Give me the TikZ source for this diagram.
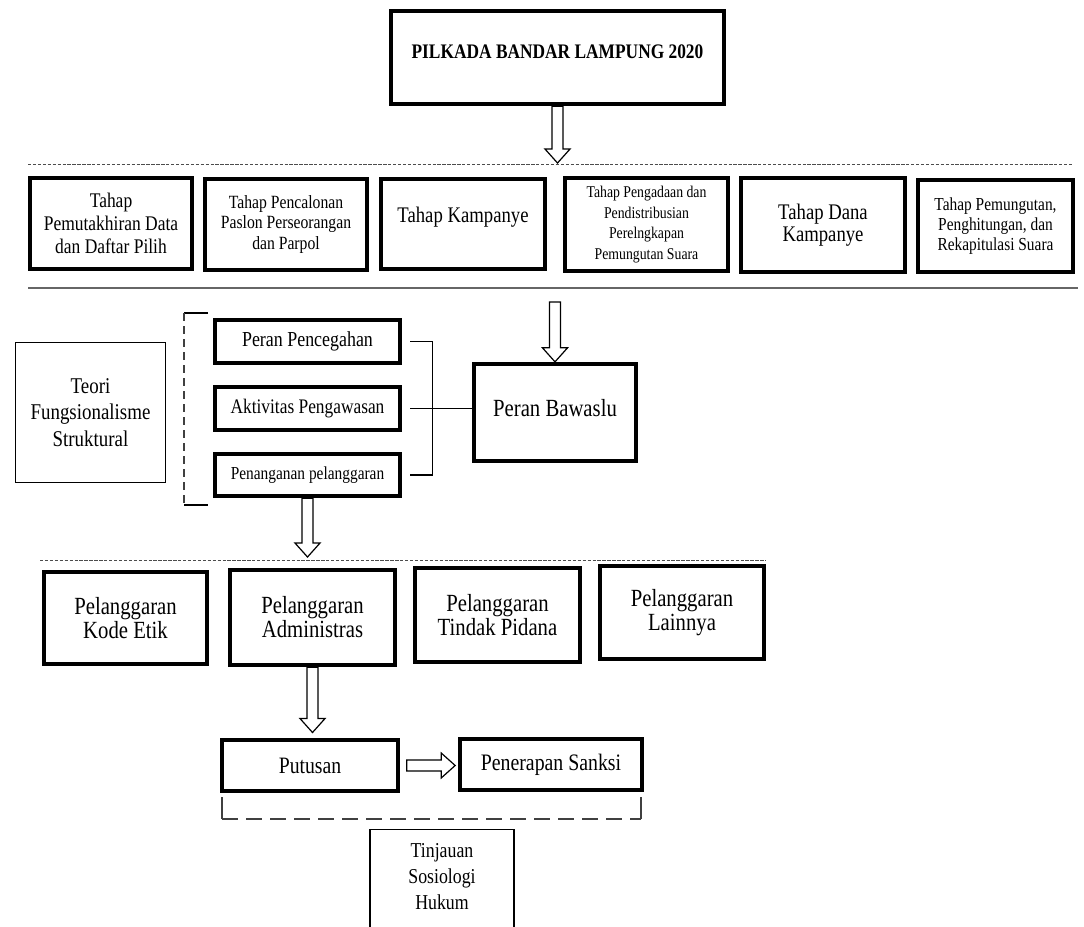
\documentclass[tikz,border=0pt]{standalone}
\usepackage{fontspec}
\setmainfont{Liberation Serif}[FakeStretch=0.84]
\usetikzlibrary{calc}
\newcommand{\setfs}[2]{\fontsize{#1}{#2}\selectfont}
\tikzset{
    stage/.style={draw, line width=3pt, align=center}, % heavy framed boxes
    theory/.style={draw, line width=1pt, align=center}, % thin framed boxes
    link/.style={line width=0.8pt}, % plain connector lines
    bracket/.style={line width=0.8pt, black!75, dash pattern=on 6pt off 3.75pt}, % dashed brackets
    divider/.style={line width=0.6pt, black!70, dash pattern=on 2.5pt off 1.2pt}, % dashed separators
    downarrow/.style={draw, fill=white, line width=0.9pt, to path={
        let \p1=(\tikztostart), \p2=(\tikztotarget) in
        (\x1-4.1pt,\y1) -- (\x1-4.1pt,\y2+10.5pt) -- (\x1-9.4pt,\y2+10.5pt) -- (\x1,\y2)
        -- (\x1+9.4pt,\y2+10.5pt) -- (\x1+4.1pt,\y2+10.5pt) -- (\x1+4.1pt,\y1) -- cycle}}, % hollow block arrow, down
    rightarrow/.style={draw, fill=white, line width=0.9pt, to path={
        let \p1=(\tikztostart), \p2=(\tikztotarget) in
        (\x1,\y1-4.1pt) -- (\x2-10.5pt,\y1-4.1pt) -- (\x2-10.5pt,\y1-9.4pt) -- (\x2,\y1)
        -- (\x2-10.5pt,\y1+9.4pt) -- (\x2-10.5pt,\y1+4.1pt) -- (\x1,\y1+4.1pt) -- cycle}}, % hollow block arrow, right
}
\begin{document}
\begin{tikzpicture}[x=0.75pt, y=-0.75pt]
    \useasboundingbox (0,0) rectangle (1084,927);
    \clip (0,0) rectangle (1084,927);

    % separators
    \draw[divider] (28,164) -- (1072,164);
    \draw[line width=1.2pt, black!60] (28,288) -- (1078,288);
    \draw[divider] (40,560) -- (766,560);

    \node[stage, minimum width=250pt, minimum height=70pt, text depth=9pt, font=\setfs{15.5}{18}\bfseries] (pilkada) at (557.5,57.5) {PILKADA BANDAR LAMPUNG 2020};

    % stages
    \node[stage, minimum width=121.75pt, minimum height=68.5pt, font=\setfs{15.6}{17}] (pemutakhiran) at (111,223.5) {Tahap\\Pemutakhiran Data\\dan Daftar Pilih};
    \node[stage, minimum width=121.75pt, minimum height=68.5pt, font=\setfs{14}{15.5}] (pencalonan) at (286,224.5) {Tahap Pencalonan\\Paslon Perseorangan\\dan Parpol};
    \node[stage, minimum width=123.25pt, minimum height=67pt, text depth=14pt, font=\setfs{16.7}{19}] (kampanye) at (463,224) {Tahap Kampanye};
    \node[stage, minimum width=122.5pt, minimum height=70pt, font=\setfs{12.3}{15.5}] (pengadaan) at (646.5,224.5) {Tahap Pengadaan dan\\Pendistribusian\\Perelngkapan\\Pemungutan Suara};
    \node[stage, minimum width=123.25pt, minimum height=70pt, font=\setfs{16.7}{16.5}] (dana) at (823,225) {Tahap Dana\\Kampanye};
    \node[stage, minimum width=116.5pt, minimum height=69.25pt, font=\setfs{13.75}{15}] (pemungutan) at (995.5,226) {Tahap Pemungutan,\\Penghitungan, dan\\Rekapitulasi Suara};

    % roles
    \node[stage, minimum width=139pt, minimum height=32.5pt, font=\setfs{16}{18}] (pencegahan) at (307.5,341.5) {Peran Pencegahan};
    \node[stage, minimum width=139pt, minimum height=32.5pt, font=\setfs{15.5}{18}] (aktivitas) at (307.5,408.5) {Aktivitas Pengawasan};
    \node[stage, minimum width=139pt, minimum height=31.75pt, font=\setfs{13.75}{16}] (penanganan) at (307.5,475) {Penanganan pelanggaran};
    \node[stage, minimum width=121.75pt, minimum height=73pt, text depth=7.5pt, font=\setfs{18.5}{20}] (bawaslu) at (555,412.5) {Peran Bawaslu};
    \node[theory, minimum width=112.25pt, minimum height=104.75pt, font=\setfs{16.9}{19.7}] (teori) at (90.5,412.5) {Teori\\Fungsionalisme\\Struktural};

    % violations
    \node[stage, minimum width=122.5pt, minimum height=69.25pt, font=\setfs{18.5}{18}] (kodeetik) at (125.5,618) {Pelanggaran\\Kode Etik};
    \node[stage, minimum width=124pt, minimum height=71.5pt, font=\setfs{18.5}{18}] (administras) at (312.5,617.5) {Pelanggaran\\Administras};
    \node[stage, minimum width=124pt, minimum height=70.75pt, font=\setfs{18.5}{18}] (tindak) at (497.5,615) {Pelanggaran\\Tindak Pidana};
    \node[stage, minimum width=123.25pt, minimum height=70pt, font=\setfs{18.5}{18}] (lainnya) at (682,612.5) {Pelanggaran\\Lainnya};

    \node[stage, minimum width=132.25pt, minimum height=38.5pt, font=\setfs{17.6}{20}] (putusan) at (310,765.5) {Putusan};
    \node[stage, minimum width=136.75pt, minimum height=38.5pt, font=\setfs{17.7}{20}] (sanksi) at (551,764.5) {Penerapan Sanksi};
    \node[theory, draw=none, minimum width=107pt, minimum height=70.5pt, font=\setfs{15.9}{19.5}] (tinjauan) at (442,877) {Tinjauan\\Sosiologi\\Hukum};
    \draw[line width=1pt] ([yshift=-20pt]tinjauan.south west) -- (tinjauan.north west) -- (tinjauan.north east) -- ([yshift=-20pt]tinjauan.south east);

    \coordinate (tip1) at (557.5,163);
    \coordinate (gate2) at (555,302);
    \coordinate (tip3) at (307.5,557);

    % arrows
    \draw[downarrow] (pilkada.south) to (tip1);
    \draw[downarrow] (gate2) to (bawaslu.north);
    \draw[downarrow] (penanganan.south) to (tip3);
    \draw[downarrow] (administras.south) to ([yshift=4pt]putusan.north);
    \draw[rightarrow] ([xshift=5pt]putusan.east) to ([xshift=-2pt]sanksi.west);

    % brackets
    \draw[link] ([xshift=6pt]pencegahan.east) -- ++(16.5pt,0) |- ([xshift=6pt]penanganan.east);
    \draw[link] ([xshift=6pt]aktivitas.east) -- (bawaslu.west |- aktivitas.east);
    \draw[link] (208,313) -- (184,313);
    \draw[link] (184,505) -- (208,505);
    \draw[bracket] (184,313) -- (184,505);
    \draw[link, black!75] (222,797) -- (222,819);
    \draw[link, black!75] (641,797) -- (641,819);
    \draw[bracket, dash pattern=on 12pt off 6pt] (222,819) -- (641,819);
\end{tikzpicture}
\end{document}
